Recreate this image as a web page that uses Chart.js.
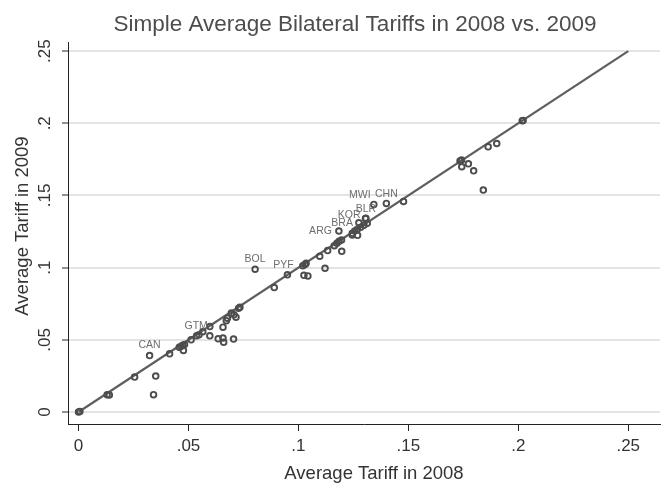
<!DOCTYPE html>
<html>
<head>
<meta charset="utf-8">
<title>Simple Average Bilateral Tariffs in 2008 vs. 2009</title>
<script src="https://cdn.jsdelivr.net/npm/chart.js@4.4.1/dist/chart.umd.min.js"></script>
<style>
  html, body { margin: 0; padding: 0; background: #fff; }
  #wrap { width: 666px; height: 483px; }
</style>
</head>
<body>
<div id="wrap"><canvas id="chart" width="666" height="483"></canvas></div>
<script>
'use strict';
// values (one entry per country)
var tariff2008 = [0, 0.0006, 0.0130, 0.0140, 0.0255, 0.0323, 0.0351, 0.0341, 0.0414,
  0.0458, 0.0467, 0.0474, 0.0482, 0.0477, 0.0512, 0.0537, 0.0548, 0.0565, 0.0597, 0.0597,
  0.0657, 0.0635, 0.0657, 0.0660, 0.0705, 0.0672, 0.0677, 0.0695, 0.0707, 0.0716, 0.0728,
  0.0734, 0.0803, 0.0890, 0.0950, 0.1020, 0.1030, 0.1035, 0.1025, 0.1043, 0.1121, 0.1097,
  0.1133, 0.1163, 0.1175, 0.1185, 0.1196, 0.1197, 0.1184, 0.1245, 0.1256, 0.1268, 0.1283,
  0.1298, 0.1313, 0.1245, 0.1269, 0.1275, 0.1307, 0.1305, 0.1343, 0.1400, 0.1478, 0.1863,
  0.1902, 0.1735, 0.1742, 0.1743, 0.1773, 0.1797, 0.1841, 0.2018, 0.2022];
var tariff2009 = [0, 0.0004, 0.0120, 0.0118, 0.0242, 0.0391, 0.0249, 0.0120, 0.0403,
  0.0448, 0.0455, 0.0462, 0.0468, 0.0426, 0.0500, 0.0528, 0.0535, 0.0556, 0.0592, 0.0528,
  0.0588, 0.0507, 0.0512, 0.0484, 0.0505, 0.0633, 0.0650, 0.0685, 0.0673, 0.0657, 0.0719,
  0.0726, 0.0989, 0.0862, 0.0950, 0.1014, 0.1022, 0.1030, 0.0947, 0.0943, 0.0996, 0.1079,
  0.1118, 0.1152, 0.1169, 0.1183, 0.1192, 0.1113, 0.1254, 0.1238, 0.1254, 0.1266, 0.1279,
  0.1293, 0.1307, 0.1226, 0.1224, 0.1311, 0.1342, 0.1340, 0.1438, 0.1445, 0.1459, 0.1837,
  0.1860, 0.1738, 0.1745, 0.1699, 0.1719, 0.1671, 0.1537, 0.2017, 0.2020];
var countryCodes = ['', '', '', '', '', 'CAN', '', '', '',
  '', '', '', '', '', '', '', '', '', 'GTM', '',
  '', '', '', '', '', '', '', '', '', '', '',
  '', 'BOL', '', 'PYF', '', '', '', '', '', '', '',
  '', '', '', '', '', '', 'ARG', '', '', '', '',
  '', '', '', '', 'BRA', 'BLR', 'KOR', 'MWI', 'CHN', '', '',
  '', '', '', '', '', '', '', '', ''];
var lineX = [0, 0.25];
var lineY = [0, 0.25];
var xTicks = [0, 0.05, 0.1, 0.15, 0.2, 0.25];
var xTickLabels = ['0', '.05', '.1', '.15', '.2', '.25'];
var yTicks = [0, 0.05, 0.1, 0.15, 0.2, 0.25];
var yTickLabels = ['0', '.05', '.1', '.15', '.2', '.25'];

// where each marker label sits next to its point (pixels)
var labelPos = {
  CAN: {align: 'center', dx: 0, dy: -10},
  GTM: {align: 'right', dx: -2, dy: 0},
  BOL: {align: 'center', dx: 0, dy: -10},
  PYF: {align: 'center', dx: -4, dy: -10},
  ARG: {align: 'right', dx: -7, dy: 0},
  BRA: {align: 'right', dx: -6, dy: 0},
  KOR: {align: 'right', dx: -5, dy: -3},
  BLR: {align: 'center', dx: 0, dy: -9},
  MWI: {align: 'center', dx: -14, dy: -9},
  CHN: {align: 'center', dx: 0, dy: -9}
};

var FONT = '"Liberation Sans", Arial, sans-serif';

var points = tariff2008.map(function (x, i) {
  return {x: x, y: tariff2009[i]};
});
var diagonal = lineX.map(function (x, i) {
  return {x: x, y: lineY[i]};
});

var textPlugin = {
  id: 'stataText',
  afterDraw: function (chart) {
    var ctx = chart.ctx;
    var xs = chart.scales.x;
    var ys = chart.scales.y;
    ctx.save();
    ctx.textBaseline = 'middle';

    // title
    ctx.fillStyle = '#4d4d4d';
    ctx.font = '22.5px ' + FONT;
    ctx.textAlign = 'center';
    ctx.fillText('Simple Average Bilateral Tariffs in 2008 vs. 2009', 355, 25);

    // axis titles
    ctx.fillStyle = '#333';
    ctx.font = '18.5px ' + FONT;
    ctx.fillText('Average Tariff in 2008', 374, 474);
    ctx.save();
    ctx.translate(23, 226);
    ctx.rotate(-Math.PI / 2);
    ctx.fillText('Average Tariff in 2009', 0, 0);
    ctx.restore();

    // y tick labels, turned like the reference
    ctx.font = '17px ' + FONT;
    for (var i = 0; i < yTicks.length; i++) {
      var py = ys.getPixelForValue(yTicks[i]);
      ctx.save();
      ctx.translate(45, py);
      ctx.rotate(-Math.PI / 2);
      ctx.fillText(yTickLabels[i], 0, 0);
      ctx.restore();
    }

    // marker labels
    ctx.fillStyle = '#6e6e6e';
    ctx.font = '10.5px ' + FONT;
    for (var j = 0; j < countryCodes.length; j++) {
      var code = countryCodes[j];
      if (!code) continue;
      var pos = labelPos[code];
      var px = xs.getPixelForValue(tariff2008[j]);
      var pyy = ys.getPixelForValue(tariff2009[j]);
      ctx.textAlign = pos.align;
      ctx.fillText(code, px + pos.dx, pyy + pos.dy);
    }
    ctx.restore();
  }
};

var chart = new Chart(document.getElementById('chart'), {
  type: 'scatter',
  data: {
    datasets: [
      {
        data: points,
        showLine: false,
        pointRadius: 2.8,
        pointBorderWidth: 1.9,
        pointBorderColor: '#4d4d4d',
        pointBackgroundColor: 'rgba(0,0,0,0)',
        order: 0
      },
      {
        data: diagonal,
        showLine: true,
        borderColor: '#5e5e5e',
        borderWidth: 2.2,
        pointRadius: 0,
        order: 1
      }
    ]
  },
  options: {
    responsive: false,
    animation: false,
    devicePixelRatio: 1,
    layout: {padding: {top: 42, right: 0, bottom: 0, left: 0}},
    plugins: {
      legend: {display: false},
      tooltip: {enabled: false},
      title: {display: false}
    },
    scales: {
      x: {
        type: 'linear',
        min: -0.0048,
        max: 0.2645,
        afterBuildTicks: function (s) {
          s.ticks = xTicks.map(function (v) { return {value: v}; });
        },
        afterFit: function (s) { s.height = 59; },
        ticks: {
          callback: function (v, i) { return xTickLabels[i]; },
          font: {family: FONT, size: 17},
          color: '#333',
          padding: 5,
          maxRotation: 0,
          autoSkip: false
        },
        grid: {drawOnChartArea: false, tickLength: 7, tickColor: '#222', tickWidth: 1},
        border: {color: '#222', width: 1}
      },
      y: {
        type: 'linear',
        min: -0.0083,
        max: 0.2563,
        afterBuildTicks: function (s) {
          s.ticks = yTicks.map(function (v) { return {value: v}; });
        },
        afterFit: function (s) { s.width = 68; },
        ticks: {display: false},
        grid: {color: '#e4e4e4', lineWidth: 2, tickLength: 6, tickColor: '#222', tickWidth: 1},
        border: {color: '#222', width: 1}
      }
    }
  },
  plugins: [textPlugin]
});
</script>
</body>
</html>
